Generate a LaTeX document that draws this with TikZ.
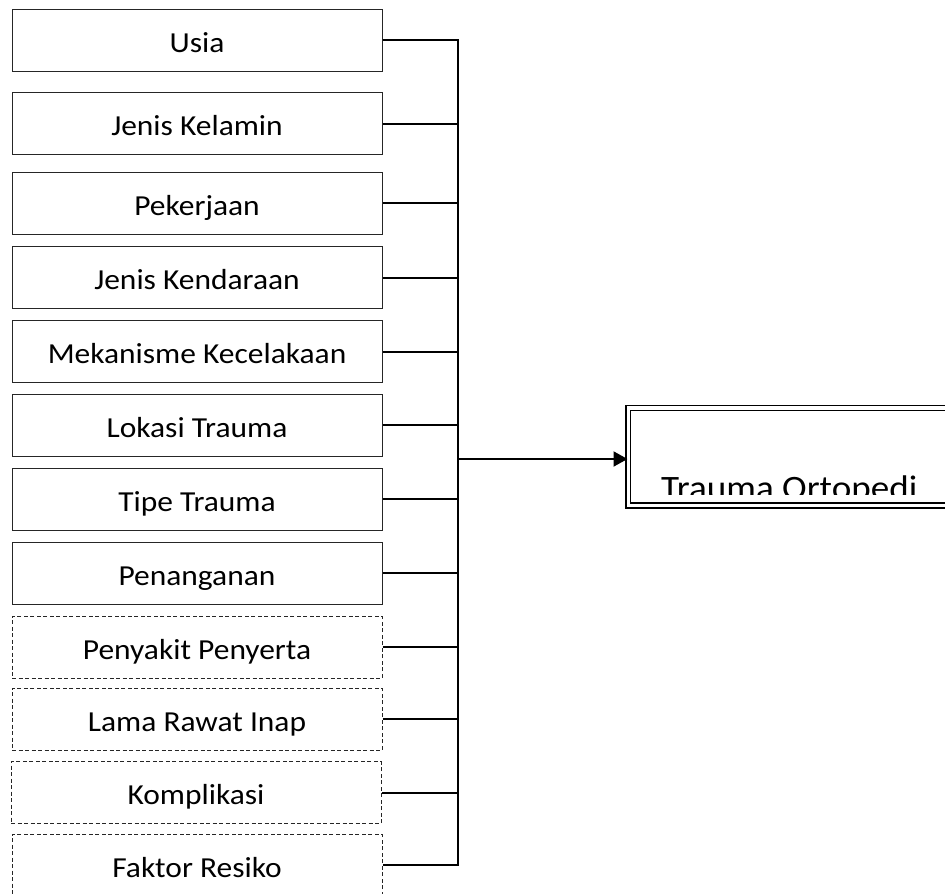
\documentclass[tikz,border=0pt]{standalone}
\usepackage{fontspec}
\setmainfont{Carlito}[FakeStretch=1.085]
\usetikzlibrary{arrows.meta}
\tikzset{
  varbox/.style={draw=black!85, line width=1pt, minimum width=370pt, minimum height=62pt,
    inner sep=0pt, align=center, text height=24pt, text depth=0pt,
    font=\fontsize{29}{35}\selectfont},
  solidbox/.style={varbox},
  dashbox/.style={varbox, dash pattern=on 4pt off 2.5pt},
  conn/.style={draw=black, line width=2pt},
  arrowconn/.style={conn, -{Triangle[length=14pt,width=15pt]}},
  outbox/.style={draw=black, double=white, double distance=3.4pt, line width=1.4pt,
    minimum width=400pt, minimum height=97.5pt, inner sep=0pt, anchor=west},
  biglabel/.style={anchor=base west, inner sep=0pt, font=\fontsize{34.2}{40}\selectfont},
}
\begin{document}
\begin{tikzpicture}[x=1pt,y=-1pt]
\useasboundingbox (0,0) rectangle (945,894);
\clip (0,0) rectangle (945,894);
\fill[white] (0,0) rectangle (945,894);
\node[solidbox] (usia) at (197,40) {Usia};
\node[solidbox] (jk) at (197,123.5) {Jenis Kelamin};
\node[solidbox] (pek) at (197,203) {Pekerjaan};
\node[solidbox] (jkend) at (197,277.5) {Jenis Kendaraan};
\node[solidbox] (mek) at (197,351.5) {Mekanisme Kecelakaan};
\node[solidbox] (lok) at (197,425) {Lokasi Trauma};
\node[solidbox] (tipe) at (197,499) {Tipe Trauma};
\node[solidbox] (pen) at (197,573) {Penanganan};
\node[dashbox] (peny) at (197,647) {Penyakit Penyerta};
\node[dashbox] (lama) at (197,719) {Lama Rawat Inap};
\node[dashbox] (komp) at (196,792.5) {Komplikasi};
\node[dashbox] (fak) at (197,865) {Faktor Resiko};
\coordinate (bus) at (457.5,40);
\coordinate (arrowstart) at (457.5,459);
\draw[conn] (usia.east) -- (usia.east -| bus) -- (fak.east -| bus) -- (fak.east);
\foreach \n in {jk,pek,jkend,mek,lok,tipe,pen,peny,lama,komp}{
  \draw[conn] (\n.east) -- (\n.east -| bus);
}
\node[outbox] (target) at (627.5,456.75) {};
\draw[arrowconn] (arrowstart) -- (arrowstart -| target.west);
\begin{scope}
\clip (631,411) rectangle (945,494);
\node[biglabel] (tlabel) at (661,499.3) {Trauma Ortopedi};
\end{scope}
\end{tikzpicture}
\end{document}
